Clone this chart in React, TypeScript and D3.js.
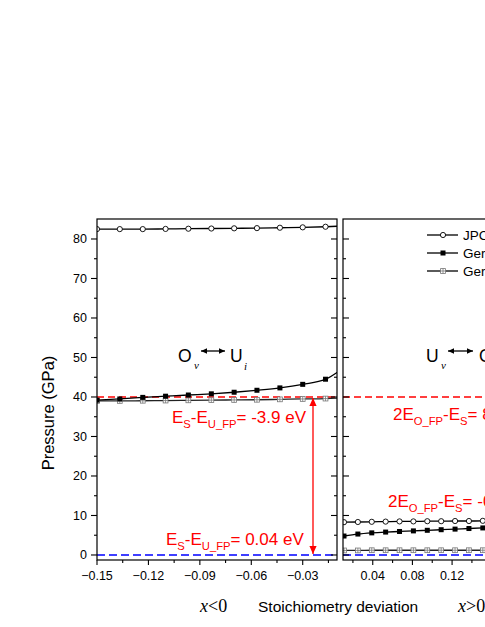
import * as d3 from 'd3';
import React from 'react';

// stoichiometry deviation, x < 0 panel
const xNeg = [-0.15, -0.1367, -0.1233, -0.11, -0.0967, -0.0833, -0.07, -0.0567, -0.0433, -0.03, -0.0167, -0.0033];
const jpcmNeg = [82.5, 82.5, 82.5, 82.55, 82.6, 82.65, 82.7, 82.75, 82.85, 82.95, 83.1, 83.35];
const gerANeg = [39.2, 39.5, 39.9, 40.2, 40.5, 40.8, 41.2, 41.7, 42.3, 43.2, 44.5, 48.3];
const gerBNeg = [39.0, 39.0, 39.05, 39.1, 39.15, 39.2, 39.25, 39.3, 39.4, 39.5, 39.6, 39.9];

// x > 0 panel
const xPos = [0.011, 0.025, 0.039, 0.053, 0.067, 0.081, 0.095, 0.109, 0.123, 0.137, 0.151];
const jpcmPos = [8.3, 8.35, 8.4, 8.45, 8.5, 8.5, 8.55, 8.55, 8.6, 8.6, 8.65];
const gerAPos = [4.8, 5.3, 5.6, 5.8, 5.95, 6.1, 6.25, 6.4, 6.55, 6.7, 6.85];
const gerBPos = [1.15, 1.15, 1.2, 1.2, 1.2, 1.2, 1.2, 1.2, 1.2, 1.2, 1.2];

const legendLabels = ['JPCM', 'Ger (GGA+U)', 'Ger (LDA+U)'];
const yTicks = [0, 10, 20, 30, 40, 50, 60, 70, 80];
const yMinor = [5, 15, 25, 35, 45, 55, 65, 75];
const xNegTicks = [-0.15, -0.12, -0.09, -0.06, -0.03];
const xNegMinor = [-0.135, -0.105, -0.075, -0.045, -0.015];
const xPosTicks = [0.04, 0.08, 0.12, 0.16, 0.2, 0.24];
const xPosLabels = [0.04, 0.08, 0.12];
const xPosMinor = [0.02, 0.06, 0.1, 0.14, 0.18, 0.22];
const redLevel = 40;
const blueLevel = 0;
const arrowX = -0.024;

const SANS = '"Liberation Sans", Arial, sans-serif';
const SERIF = '"Liberation Serif", "Times New Roman", serif';

const top = 219;
const bottom = 560;
const y = d3.scaleLinear().domain([-1.27, 85.06]).range([bottom, top]);
const xL = d3.scaleLinear().domain([-0.15, -0.01]).range([97, 337]);
const xR = d3.scaleLinear().domain([0.01, 0.25]).range([343, 581]);

function Series({ xs, ys, sx, kind }: any) {
  const line = d3.line<number>().x((d, i) => sx(xs[i])).y(d => y(d)).curve(d3.curveMonotoneX);
  const stroke = kind === 'crossed' ? '#222' : '#000';
  return (
    <g>
      <path d={line(ys) || ''} fill="none" stroke={stroke} strokeWidth={1.3} />
      {ys.map((v: number, i: number) => {
        const cx = sx(xs[i]);
        const cy = y(v);
        if (kind === 'circle') return <circle key={i} cx={cx} cy={cy} r={2.6} fill="#fff" stroke="#000" strokeWidth={0.9} />;
        if (kind === 'filled') return <rect key={i} x={cx - 2.5} y={cy - 2.5} width={5} height={5} fill="#000" />;
        return (
          <g key={i} stroke="#777" strokeWidth={0.8} fill="#fff">
            <rect x={cx - 2.4} y={cy - 2.4} width={4.8} height={4.8} />
            <line x1={cx - 2.4} x2={cx + 2.4} y1={cy} y2={cy} />
            <line x1={cx} x2={cx} y1={cy - 2.4} y2={cy + 2.4} />
          </g>
        );
      })}
    </g>
  );
}

function Sub({ parts, x, yb, size }: any) {
  // parts: [text, isSub]
  let prev = false;
  return (
    <text x={x} y={yb} fill="#ff0000" fontFamily={SANS} fontSize={size}>
      {parts.map((p: any, i: number) => {
        const dy = p[1] && !prev ? 5 : !p[1] && prev ? -5 : 0;
        prev = p[1];
        return <tspan key={i} dy={dy} fontSize={p[1] ? size * 0.66 : size}>{p[0]}</tspan>;
      })}
    </text>
  );
}

function DArrow({ x1, x2, y1, y2, color, head }: any) {
  const ang = Math.atan2(y2 - y1, x2 - x1);
  const h = (px: number, py: number, a: number) => {
    const l = head, w = head * 0.45;
    const bx = px - l * Math.cos(a), by = py - l * Math.sin(a);
    return `M${px},${py}L${bx - w * Math.sin(a)},${by + w * Math.cos(a)}L${bx + w * Math.sin(a)},${by - w * Math.cos(a)}Z`;
  };
  return (
    <g>
      <line x1={x1} y1={y1} x2={x2} y2={y2} stroke={color} strokeWidth={1.3} />
      <path d={h(x2, y2, ang)} fill={color} />
      <path d={h(x1, y1, ang + Math.PI)} fill={color} />
    </g>
  );
}

export default function App() {
  const lL = xL.range()[0], rL = xL.range()[1];
  const lR = xR.range()[0], rR = xR.range()[1];
  return (
    <svg width={485} height={627} style={{ position: 'absolute', left: 0, top: 0, display: 'block', background: '#fff' }}>
      <defs>
        <clipPath id="clipL"><rect x={lL} y={top} width={rL - lL} height={bottom - top} /></clipPath>
        <clipPath id="clipR"><rect x={lR} y={top} width={rR - lR} height={bottom - top} /></clipPath>
      </defs>

      {/* left panel */}
      <g clipPath="url(#clipL)">
        <line x1={lL} x2={rL} y1={y(redLevel)} y2={y(redLevel)} stroke="#ff0000" strokeWidth={1.5} strokeDasharray="7,4" />
        <line x1={lL} x2={rL} y1={y(blueLevel)} y2={y(blueLevel)} stroke="#0000ff" strokeWidth={1.5} strokeDasharray="8,4" />
        <Series xs={xNeg} ys={gerBNeg} sx={xL} kind="crossed" />
        <Series xs={xNeg} ys={gerANeg} sx={xL} kind="filled" />
        <Series xs={xNeg} ys={jpcmNeg} sx={xL} kind="circle" />
      </g>
      <DArrow x1={xL(arrowX)} x2={xL(arrowX)} y1={y(redLevel) + 1} y2={y(blueLevel) - 1} color="#ff0000" head={8} />
      <rect x={lL} y={top} width={rL - lL} height={bottom - top} fill="none" stroke="#000" strokeWidth={1.2} />
      {yTicks.map(t => (
        <g key={t}>
          <line x1={lL - 6} x2={lL} y1={y(t)} y2={y(t)} stroke="#000" strokeWidth={1.1} />
          <line x1={rL - 6} x2={rL} y1={y(t)} y2={y(t)} stroke="#000" strokeWidth={1.1} />
          <text x={lL - 10} y={y(t) + 4.5} textAnchor="end" fontFamily={SANS} fontSize={12.5}>{t}</text>
        </g>
      ))}
      {yMinor.map(t => (
        <g key={t}>
          <line x1={lL - 3} x2={lL} y1={y(t)} y2={y(t)} stroke="#000" strokeWidth={1.1} />
          <line x1={rL - 3} x2={rL} y1={y(t)} y2={y(t)} stroke="#000" strokeWidth={1.1} />
        </g>
      ))}
      {xNegTicks.map(t => (
        <g key={t}>
          <line x1={xL(t)} x2={xL(t)} y1={bottom} y2={bottom + 5} stroke="#000" strokeWidth={1.1} />
          <text x={xL(t)} y={580} textAnchor="middle" fontFamily={SANS} fontSize={12.5}>{d3.format('.2f')(t)}</text>
        </g>
      ))}
      {xNegMinor.map(t => (
        <line key={t} x1={xL(t)} x2={xL(t)} y1={bottom} y2={bottom + 3} stroke="#000" strokeWidth={1.1} />
      ))}

      {/* right panel */}
      <g clipPath="url(#clipR)">
        <line x1={lR} x2={rR} y1={y(redLevel)} y2={y(redLevel)} stroke="#ff0000" strokeWidth={1.5} strokeDasharray="7,4" />
        <line x1={lR} x2={rR} y1={y(blueLevel)} y2={y(blueLevel)} stroke="#0000ff" strokeWidth={1.5} strokeDasharray="8,4" />
        <Series xs={xPos} ys={gerBPos} sx={xR} kind="crossed" />
        <Series xs={xPos} ys={gerAPos} sx={xR} kind="filled" />
        <Series xs={xPos} ys={jpcmPos} sx={xR} kind="circle" />
      </g>
      <rect x={lR} y={top} width={rR - lR} height={bottom - top} fill="none" stroke="#000" strokeWidth={1.2} />
      {yTicks.map(t => (
        <line key={t} x1={lR} x2={lR + 6} y1={y(t)} y2={y(t)} stroke="#000" strokeWidth={1.1} />
      ))}
      {yMinor.map(t => (
        <line key={t} x1={lR} x2={lR + 3} y1={y(t)} y2={y(t)} stroke="#000" strokeWidth={1.1} />
      ))}
      {xPosTicks.map(t => (
        <line key={t} x1={xR(t)} x2={xR(t)} y1={bottom} y2={bottom + 5} stroke="#000" strokeWidth={1.1} />
      ))}
      {xPosLabels.map(t => (
        <text key={t} x={xR(t)} y={580} textAnchor="middle" fontFamily={SANS} fontSize={12.5}>{d3.format('.2f')(t)}</text>
      ))}
      {xPosMinor.map(t => (
        <line key={t} x1={xR(t)} x2={xR(t)} y1={bottom} y2={bottom + 3} stroke="#000" strokeWidth={1.1} />
      ))}

      {/* legend */}
      {legendLabels.map((lab, i) => {
        const ly = 235 + i * 18;
        const kind = i === 0 ? 'circle' : i === 1 ? 'filled' : 'crossed';
        return (
          <g key={lab}>
            <line x1={427} x2={458} y1={ly} y2={ly} stroke="#000" strokeWidth={1.3} />
            {kind === 'circle' && <circle cx={443} cy={ly} r={2.6} fill="#fff" stroke="#000" strokeWidth={0.9} />}
            {kind === 'filled' && <rect x={440.5} y={ly - 2.5} width={5} height={5} fill="#000" />}
            {kind === 'crossed' && (
              <g stroke="#777" strokeWidth={0.8} fill="#fff">
                <rect x={440.6} y={ly - 2.4} width={4.8} height={4.8} />
                <line x1={440.6} x2={445.4} y1={ly} y2={ly} />
                <line x1={443} x2={443} y1={ly - 2.4} y2={ly + 2.4} />
              </g>
            )}
            <text x={463} y={ly + 4.8} fontFamily={SANS} fontSize={13.5}>{lab}</text>
          </g>
        );
      })}

      {/* annotations */}
      <text x={178} y={362} fontFamily={SANS} fontSize={17.5}>O</text>
      <text x={194} y={369} fontFamily={SERIF} fontStyle="italic" fontSize={11}>v</text>
      <DArrow x1={201} x2={225} y1={351} y2={351} color="#000" head={6} />
      <text x={230} y={362} fontFamily={SANS} fontSize={17.5}>U</text>
      <text x={244} y={370} fontFamily={SERIF} fontStyle="italic" fontSize={11}>i</text>

      <text x={426} y={362} fontFamily={SANS} fontSize={17.5}>U</text>
      <text x={441} y={369} fontFamily={SERIF} fontStyle="italic" fontSize={11}>v</text>
      <DArrow x1={448} x2={473} y1={351} y2={351} color="#000" head={6} />
      <text x={479} y={362} fontFamily={SANS} fontSize={17.5}>O</text>

      <Sub x={172} yb={423} size={17} parts={[['E', false], ['S', true], ['-E', false], ['U_FP', true], ['= -3.9 eV', false]]} />
      <Sub x={166} yb={545} size={17} parts={[['E', false], ['S', true], ['-E', false], ['U_FP', true], ['= 0.04 eV', false]]} />
      <Sub x={393} yb={420} size={17} parts={[['2E', false], ['O_FP', true], ['-E', false], ['S', true], ['= 8.2 eV', false]]} />
      <Sub x={388} yb={507} size={17} parts={[['2E', false], ['O_FP', true], ['-E', false], ['S', true], ['= -0.04 eV', false]]} />

      {/* axis titles */}
      <text transform="translate(54,413) rotate(-90)" textAnchor="middle" fontFamily={SANS} fontSize={16.5}>Pressure (GPa)</text>
      <text x={258} y={612} fontFamily={SANS} fontSize={15.5}>Stoichiometry deviation</text>
      <text x={200} y={612} fontFamily={SERIF} fontSize={18}><tspan fontStyle="italic">x</tspan>&lt;0</text>
      <text x={458} y={612} fontFamily={SERIF} fontSize={18}><tspan fontStyle="italic">x</tspan>&gt;0</text>
    </svg>
  );
}
